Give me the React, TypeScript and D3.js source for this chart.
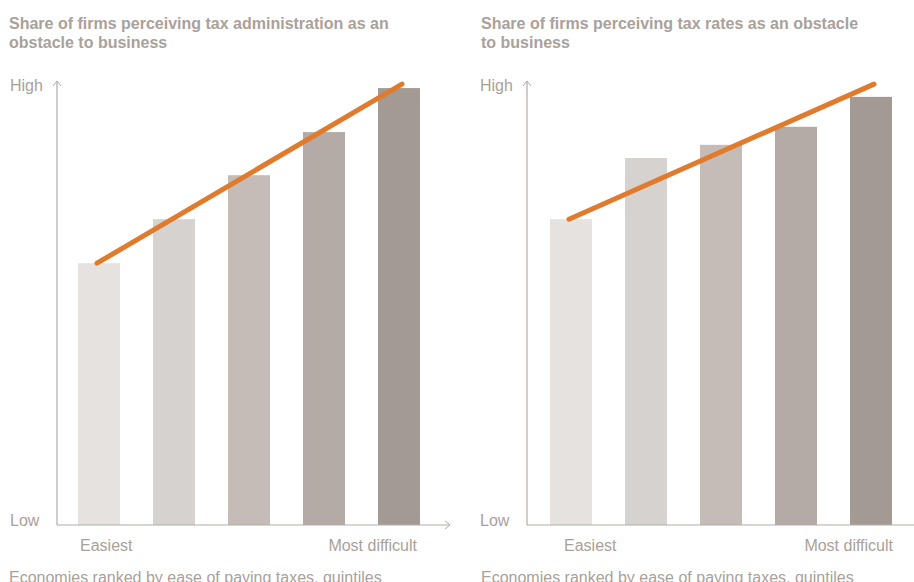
import React from "react";
import * as d3 from "d3";

const quintiles = ["Q1", "Q2", "Q3", "Q4", "Q5"];
const adminValues = [59.5, 69.5, 79.5, 89.3, 99.3];
const ratesValues = [69.5, 83.4, 86.4, 90.5, 97.3];
const adminTrend = [59.5, 100.2];
const ratesTrend = [69.5, 100.2];
const barColors = ["#e6e2df", "#d6d2cf", "#c5bcb8", "#b4aba6", "#a39a94"];
const adminTitle = ["Share of firms perceiving tax administration as an", "obstacle to business"];
const ratesTitle = ["Share of firms perceiving tax rates as an obstacle", "to business"];
const xEnds = ["Easiest", "Most difficult"];
const yEnds = ["High", "Low"];
const xAxisTitle = "Economies ranked by ease of paying taxes, quintiles";

const W = 914;
const H = 582;
const TXT = "#a9a19b";
const AX = "#b3aba6";
const FONT = "'Liberation Sans', Arial, Helvetica, sans-serif";

const y = d3.scaleLinear().domain([0, 100]).range([525, 85]);

function Panel({ x0, axisX, axisEnd, values, trend, title, titleX, arrowRight, easiestDx, hardDx }: any) {
  const x = d3.scaleBand().domain(quintiles).range([x0, x0 + 342]).paddingInner(0.44).paddingOuter(0);
  const xc = (q: string) => (x(q) as number) + x.bandwidth() / 2;
  const line = d3.line<[number, number]>().x((d) => d[0]).y((d) => d[1]);
  const trendPts: [number, number][] = [
    [xc(quintiles[0]) - 2, y(trend[0])],
    [xc(quintiles[4]) + 3, y(trend[1])],
  ];
  const base = y(0);
  return (
    <g>
      <text x={titleX} y={28.5} fontSize={16} fontWeight="bold" fill={TXT}>
        {title.map((t: string, i: number) => (
          <tspan key={i} x={titleX} y={28.5 + i * 19.5}>{t}</tspan>
        ))}
      </text>
      {values.map((v: number, i: number) => (
        <rect key={i} x={x(quintiles[i])} y={y(v)} width={x.bandwidth()} height={base - y(v)} fill={barColors[i]} />
      ))}
      <line x1={axisX} x2={axisX} y1={base} y2={81} stroke={AX} strokeWidth={1.2} />
      <path d={`M${axisX - 4},${86} L${axisX},${81} L${axisX + 4},${86}`} fill="none" stroke={AX} strokeWidth={1} />
      <line x1={axisX} x2={axisEnd} y1={base} y2={base} stroke={AX} strokeWidth={1.2} />
      {arrowRight && (
        <path d={`M${axisEnd - 5},${base - 4} L${axisEnd},${base} L${axisEnd - 5},${base + 4}`} fill="none" stroke={AX} strokeWidth={1} />
      )}
      <path d={line(trendPts) as string} stroke="#e07b2e" strokeWidth={5} strokeLinecap="round" fill="none" />
      <text x={axisX - 47} y={91} fontSize={16} fill={TXT}>{yEnds[0]}</text>
      <text x={axisX - 47} y={526} fontSize={16} fill={TXT}>{yEnds[1]}</text>
      <text x={(x(quintiles[0]) as number) + easiestDx} y={551} fontSize={16} fill={TXT}>{xEnds[0]}</text>
      <text x={(x(quintiles[4]) as number) + x.bandwidth() + hardDx} y={551} fontSize={16} fill={TXT} textAnchor="end">{xEnds[1]}</text>
      <text x={titleX} y={583} fontSize={16} fill={TXT}>{xAxisTitle}</text>
    </g>
  );
}

export default function App() {
  return (
    <svg width={W} height={H} style={{ position: "absolute", left: 0, top: 0, fontFamily: FONT }}>
      <rect width={W} height={H} fill="#fff" />
      <Panel x0={78} axisX={57} axisEnd={450} values={adminValues} trend={adminTrend} title={adminTitle} titleX={9} arrowRight easiestDx={2} hardDx={-3} />
      <Panel x0={550} axisX={527} axisEnd={914} values={ratesValues} trend={ratesTrend} title={ratesTitle} titleX={481} arrowRight={false} easiestDx={14} hardDx={1} />
    </svg>
  );
}
